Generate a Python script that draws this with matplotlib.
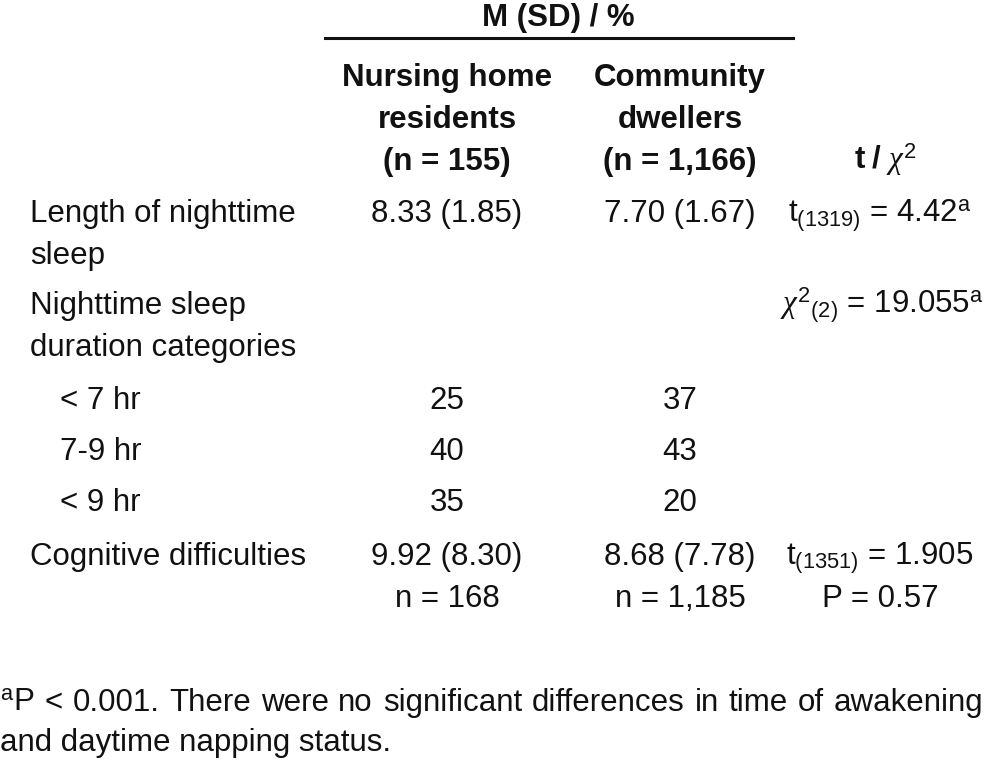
import matplotlib.pyplot as plt

W, H = 985, 764
plt.rcParams['font.family'] = ['Liberation Sans', 'DejaVu Sans']
plt.rcParams['mathtext.fontset'] = 'custom'
plt.rcParams['mathtext.rm'] = 'Liberation Sans'
plt.rcParams['mathtext.it'] = 'Liberation Serif:italic'
plt.rcParams['mathtext.bf'] = 'Liberation Sans:bold'

FS = 22.5
INK = '#111111'

# Datos de la tabla
encabezado = 'M (SD) / %'
grupos = [['Nursing home', 'residents', '(n = 155)'],
          ['Community', 'dwellers', '(n = 1,166)']]

filas = [['Length of nighttime', 'sleep'],
         ['Nighttime sleep', 'duration categories'],
         ['< 7 hr'], ['7-9 hr'], ['< 9 hr'],
         ['Cognitive difficulties']]
sangria = [False, False, True, True, True, False]
residentes = [['8.33 (1.85)'], [], ['25'], ['40'], ['35'], ['9.92 (8.30)', 'n = 168']]
comunidad = [['7.70 (1.67)'], [], ['37'], ['43'], ['20'], ['8.68 (7.78)', 'n = 1,185']]
pruebas = [[r't$_{\mathrm{(1319)}}$ = 4.42$^{\mathrm{a}}$'],
           [r'$\mathit{\chi}^{\mathrm{2}}{}_{\mathrm{(2)}}$ = 19.055$^{\mathrm{a}}$'],
           [], [], [],
           [r't$_{\mathrm{(1351)}}$ = 1.905', 'P = 0.57']]
y_filas = [210, 302, 397, 448, 499, 553]
nota = ['$^{\\mathrm{a}}$P < 0.001. There were no significant differences in time of awakening',
        'and daytime napping status.']

fig = plt.figure(figsize=(W / 100, H / 100), dpi=100)
LH = 42  # interlineado en px


def txt(x, y, s, ha='left', bold=False):
    # y es el centro visual de la linea en px desde arriba
    return fig.text(x / W, 1 - (y + 12) / H, s, ha=ha, va='baseline', fontsize=FS,
                    color=INK, fontweight='bold' if bold else 'normal')


# Encabezado
txt(558, 14, encabezado, ha='center', bold=True)
fig.add_artist(plt.Line2D([325 / W, 793 / W], [1 - 38 / H, 1 - 38 / H], color=INK, lw=2.2))
for cx, lineas in zip([447, 680], grupos):
    for i, s in enumerate(lineas):
        txt(cx, 74 + i * LH, s, ha='center', bold=True)
txt(885, 157, r'$\mathbf{t\ /\ }$$\mathit{\chi}^{\mathrm{2}}$', ha='center', bold=True)

# Filas
for k, y in enumerate(y_filas):
    for i, s in enumerate(filas[k]):
        txt(60 if sangria[k] else 30, y + i * LH, s)
    for i, s in enumerate(residentes[k]):
        txt(447, y + i * LH, s, ha='center')
    for i, s in enumerate(comunidad[k]):
        txt(680, y + i * LH, s, ha='center')
    for i, s in enumerate(pruebas[k]):
        if k == 1:
            txt(984, y + i * LH, s, ha='right')
        else:
            txt(880, y + i * LH, s, ha='center')

# Nota al pie, primera linea justificada
palabras = nota[0].split(' ')
renderer = fig.canvas.get_renderer()
objs = [txt(0, 699, p) for p in palabras]
anchos = [o.get_window_extent(renderer).width for o in objs]
hueco = (W - 2 - sum(anchos)) / (len(palabras) - 1)
x = 0
for o, a in zip(objs, anchos):
    o.set_x(x / W)
    x += a + hueco
txt(0, 739, nota[1])

fig.savefig('out.png', dpi=100, facecolor='white')
